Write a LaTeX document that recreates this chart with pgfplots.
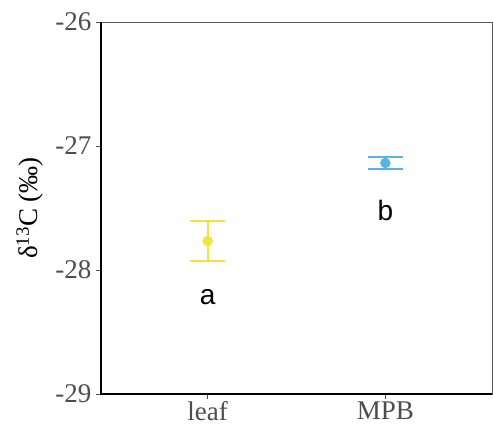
\documentclass[border=0pt]{standalone}
\usepackage{pgfplots}
\pgfplotsset{compat=1.18}
\usepackage{fontspec}
\setmainfont{Liberation Serif}
\newfontfamily\sansf{Liberation Sans}
\definecolor{cyel}{HTML}{F0E442}
\definecolor{cblu}{HTML}{56B4E9}
\definecolor{tickgray}{HTML}{4D4D4D}
\begin{document}
\begin{tikzpicture}
\begin{axis}[
  scale only axis, width=391pt, height=372pt,
  xmin=0.4, xmax=2.6, ymin=-29, ymax=-26,
  xtick={1,2}, xticklabels={leaf,MPB},
  ytick={-29,-28,-27,-26},
  tick align=outside, tick pos=left, major tick length=5pt,
  tick style={tickgray, line width=0.8pt},
  ticklabel style={font=\fontsize{27}{27}\selectfont, text=tickgray},
  yticklabel style={xshift=-1pt},
  xticklabel style={yshift=1pt},
  /pgf/number format/assume math mode=true,
  axis line style={gray!70!black, line width=0.8pt},
  ylabel={δ\textsuperscript{13}C (‰)},
  ylabel style={font=\fontsize{27}{27}\selectfont, yshift=5pt},
  clip=false,
]
% stems of the error bars (mean +- error)
\addplot[draw=cyel, line width=2pt, mark=none, forget plot] coordinates {(1,-27.605) (1,-27.927)};
\addplot[draw=cblu, line width=2pt, mark=none, forget plot] coordinates {(2,-27.087) (2,-27.187)};
% caps
\addplot[draw=cyel, line width=2pt, mark=none, forget plot] coordinates {(0.9,-27.605) (1.1,-27.605)};
\addplot[draw=cyel, line width=2pt, mark=none, forget plot] coordinates {(0.9,-27.927) (1.1,-27.927)};
\addplot[draw=cblu, line width=2pt, mark=none, forget plot] coordinates {(1.9,-27.087) (2.1,-27.087)};
\addplot[draw=cblu, line width=2pt, mark=none, forget plot] coordinates {(1.9,-27.187) (2.1,-27.187)};
% means
\addplot[only marks, mark=*, mark size=5pt, color=cyel] coordinates {(1,-27.766)};
\addplot[only marks, mark=*, mark size=5pt, color=cblu] coordinates {(2,-27.137)};
\node[font=\sansf\fontsize{28}{28}\selectfont] at (axis cs:1,-28.22) {a};
\node[font=\sansf\fontsize{28}{28}\selectfont] at (axis cs:2,-27.52) {b};
\draw[black, line width=1.6pt] (rel axis cs:0,1) -- (rel axis cs:0,0) -- (rel axis cs:1,0);
\coordinate (ll) at (rel axis cs:0,0);
\coordinate (ur) at (rel axis cs:1,1);
\end{axis}
\pgfresetboundingbox
\path ([shift={(-101pt,-35pt)}]ll) rectangle ([shift={(1pt,22pt)}]ur);
\end{tikzpicture}
\end{document}
